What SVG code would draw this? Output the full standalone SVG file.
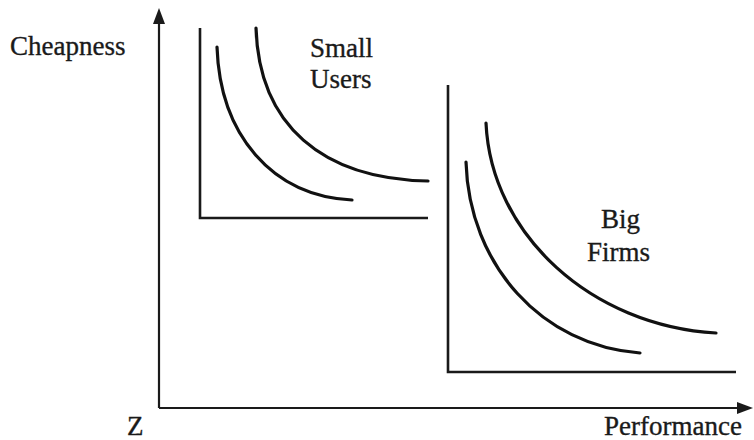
<svg xmlns="http://www.w3.org/2000/svg" width="754" height="440" viewBox="0 0 754 440">
<style>
text{font-family:"Liberation Serif","Times New Roman",serif;font-size:27px;fill:#1a1a1a;stroke:#1a1a1a;stroke-width:0.35}
.ax{stroke:#1a1a1a;stroke-width:2.2;fill:none}
.in{stroke:#1a1a1a;stroke-width:2.6;fill:none}
.cv{stroke:#111;stroke-width:3.2;fill:none;stroke-linecap:round}
</style>
<rect width="754" height="440" fill="#fff"/>
<g id="connectors">
<line class="ax" x1="159" y1="20" x2="159" y2="408"/>
<polygon points="159,8 153,24 165,24" fill="#1a1a1a"/>
<line class="ax" x1="159" y1="408" x2="740" y2="408"/>
<polygon points="753,408 737,402 737,414" fill="#1a1a1a"/>
</g>
<g id="small-users">
<polyline class="in" points="200,28 200,218 428,218"/>
<path class="cv" d="M217,47 C220,135 272,196 352,200"/>
<path class="cv" d="M256,28 C259,125 322,179 428,181"/>
<text x="310" y="57">Small</text>
<text x="310" y="88">Users</text>
</g>
<g id="big-firms">
<polyline class="in" points="448,85 448,372 736,372"/>
<path class="cv" d="M466,162 C469,265 542,346 640,353"/>
<path class="cv" d="M486,123 C491,235 592,326 716,333"/>
<text x="601" y="228">Big</text>
<text x="587" y="261">Firms</text>
</g>
<g id="labels">
<text x="10" y="55">Cheapness</text>
<text x="127" y="435">Z</text>
<text x="604" y="435">Performance</text>
</g>
</svg>
